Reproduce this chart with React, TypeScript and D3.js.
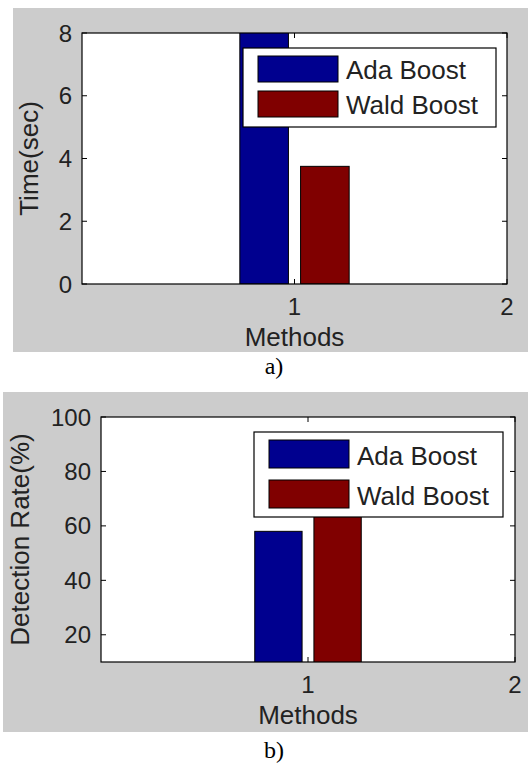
import React from "react";
import { scaleLinear } from "d3";

// data
const methods = [1];
const seriesNames = ["Ada Boost", "Wald Boost"];
const seriesColors = ["#00008f", "#800000"];

const timeAda = [9.2]; // runs off the top of the axis
const timeWald = [3.75];
const timeTicks = [0, 2, 4, 6, 8];

const rateAda = [58];
const rateWald = [72]; // top hidden behind the legend
const rateTicks = [20, 40, 60, 80, 100];

const xTicks = [1, 2];

// MATLAB grouped bar geometry for 2 series
const groupOffsets = [-0.1429, 0.1429];
const barWidth = 0.2286;

const FONT = "'Liberation Sans', Arial, sans-serif";

function Panel({ id, bg, box, yDomain, yTicks, series, yLabel, yLabelX, legend, caption, captionY }) {
  const x = scaleLinear().domain([0, 2]).range([box.left, box.right]);
  const y = scaleLinear().domain(yDomain).range([box.bottom, box.top]);
  const tick = 5;
  const midX = (box.left + box.right) / 2;
  const midY = (box.top + box.bottom) / 2;

  return (
    <g>
      <rect x={bg.x} y={bg.y} width={bg.w} height={bg.h} fill="#cccccc" />
      <rect x={box.left} y={box.top} width={box.right - box.left} height={box.bottom - box.top} fill="#fff" />
      <defs>
        <clipPath id={id}>
          <rect x={box.left} y={box.top} width={box.right - box.left} height={box.bottom - box.top} />
        </clipPath>
      </defs>
      <g clipPath={`url(#${id})`}>
        {series.map((vals, si) =>
          methods.map((m, i) => {
            const x0 = x(m + groupOffsets[si] - barWidth / 2);
            const x1 = x(m + groupOffsets[si] + barWidth / 2);
            const yTop = y(vals[i]);
            const yBase = y(0);
            return (
              <rect
                key={`${si}-${i}`}
                x={x0}
                y={yTop}
                width={x1 - x0}
                height={yBase - yTop}
                fill={seriesColors[si]}
                stroke="#000"
                strokeWidth={1}
              />
            );
          })
        )}
      </g>
      {/* axes box */}
      <rect
        x={box.left}
        y={box.top}
        width={box.right - box.left}
        height={box.bottom - box.top}
        fill="none"
        stroke="#000"
        strokeWidth={1.2}
      />
      {yTicks.map((t) => (
        <g key={t}>
          <line x1={box.left} x2={box.left + tick} y1={y(t)} y2={y(t)} stroke="#000" />
          <line x1={box.right} x2={box.right - tick} y1={y(t)} y2={y(t)} stroke="#000" />
          <text x={box.left - 10} y={y(t) + 8.5} textAnchor="end" fontSize={24} fontFamily={FONT} fill="#222">
            {t}
          </text>
        </g>
      ))}
      {xTicks.map((t) => (
        <g key={t}>
          <line x1={x(t)} x2={x(t)} y1={box.bottom} y2={box.bottom - tick} stroke="#000" />
          <line x1={x(t)} x2={x(t)} y1={box.top} y2={box.top + tick} stroke="#000" />
          <text x={x(t)} y={box.bottom + 31} textAnchor="middle" fontSize={24} fontFamily={FONT} fill="#222">
            {t}
          </text>
        </g>
      ))}
      <text x={midX} y={box.bottom + 62} textAnchor="middle" fontSize={26} fontFamily={FONT} fill="#222">
        Methods
      </text>
      <text
        transform={`translate(${yLabelX},${midY}) rotate(-90)`}
        textAnchor="middle"
        fontSize={26}
        fontFamily={FONT}
        fill="#222"
      >
        {yLabel}
      </text>
      {/* legend */}
      <rect x={legend.x} y={legend.y} width={legend.w} height={legend.h} fill="#fff" stroke="#000" strokeWidth={1.2} />
      {seriesNames.map((name, si) => (
        <g key={name}>
          <rect
            x={legend.x + 15}
            y={legend.y + 8 + si * legend.step}
            width={80}
            height={legend.sw}
            fill={seriesColors[si]}
            stroke="#000"
          />
          <text
            x={legend.x + 103}
            y={legend.y + 8 + si * legend.step + legend.sw - 3}
            fontSize={26}
            fontFamily={FONT}
            fill="#222"
          >
            {name}
          </text>
        </g>
      ))}
      <text x={274} y={captionY} textAnchor="middle" fontSize={24} fontFamily="'Liberation Serif', 'Times New Roman', serif" fill="#000">
        {caption}
      </text>
    </g>
  );
}

export default function App() {
  return (
    <svg width={528} height={766} style={{ position: "absolute", left: 0, top: 0 }}>
      <rect x={0} y={0} width={528} height={766} fill="#fff" />
      <Panel
        id="clipA"
        bg={{ x: 13, y: 8, w: 515, h: 344 }}
        box={{ left: 82, right: 507, top: 33, bottom: 284 }}
        yDomain={[0, 8]}
        yTicks={timeTicks}
        series={[timeAda, timeWald]}
        yLabel="Time(sec)"
        yLabelX={38}
        legend={{ x: 243, y: 48, w: 253, h: 79, step: 35, sw: 26 }}
        caption="a)"
        captionY={374}
      />
      <Panel
        id="clipB"
        bg={{ x: 3, y: 392, w: 525, h: 340 }}
        box={{ left: 101, right: 515, top: 417, bottom: 662 }}
        yDomain={[10, 100]}
        yTicks={rateTicks}
        series={[rateAda, rateWald]}
        yLabel="Detection Rate(%)"
        yLabelX={29}
        legend={{ x: 254, y: 432, w: 249, h: 85, step: 40, sw: 28 }}
        caption="b)"
        captionY={758}
      />
    </svg>
  );
}
